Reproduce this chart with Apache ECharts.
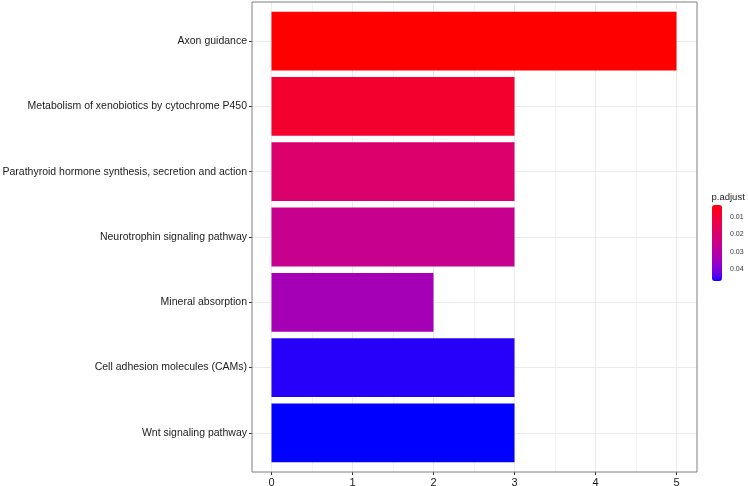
<!DOCTYPE html>
<html><head><meta charset="utf-8">
<script src="https://cdn.jsdelivr.net/npm/echarts@6/dist/echarts.min.js"></script>
<style>html,body{margin:0;padding:0;background:#fff}#c{width:748px;height:486px}</style>
</head><body><div id="c"></div>
<script>
// ---- data ----
const categories = [
  "Axon guidance",
  "Metabolism of xenobiotics by cytochrome P450",
  "Parathyroid hormone synthesis, secretion and action",
  "Neurotrophin signaling pathway",
  "Mineral absorption",
  "Cell adhesion molecules (CAMs)",
  "Wnt signaling pathway"
];
const counts = [5, 3, 3, 3, 2, 3, 3];
const pAdjust = [0.0031, 0.0084, 0.0193, 0.0259, 0.0338, 0.0459, 0.0470];
const xTicks = [0, 1, 2, 3, 4, 5];
const legendTicks = [0.01, 0.02, 0.03, 0.04];
const pMin = 0.0031, pMax = 0.0470;

// ---- colour helpers (Lab interpolation like ggplot) ----
function toLin(c){c/=255;return c<=0.04045?c/12.92:Math.pow((c+0.055)/1.055,2.4);}
function fromLin(c){c=c<=0.0031308?12.92*c:1.055*Math.pow(c,1/2.4)-0.055;return Math.max(0,Math.min(255,Math.round(c*255)));}
function rgb2lab(r,g,b){r=toLin(r);g=toLin(g);b=toLin(b);
  let X=(0.4124*r+0.3576*g+0.1805*b)/0.95047,Y=(0.2126*r+0.7152*g+0.0722*b),Z=(0.0193*r+0.1192*g+0.9505*b)/1.08883;
  const f=t=>t>0.008856?Math.cbrt(t):7.787*t+16/116;
  const fx=f(X),fy=f(Y),fz=f(Z);return [116*fy-16,500*(fx-fy),200*(fy-fz)];}
function lab2rgb(L,a,b){const fy=(L+16)/116,fx=fy+a/500,fz=fy-b/200;
  const g=t=>{const t3=t*t*t;return t3>0.008856?t3:(t-16/116)/7.787;};
  const X=g(fx)*0.95047,Y=g(fy),Z=g(fz)*1.08883;
  const r=3.2406*X-1.5372*Y-0.4986*Z,gg=-0.9689*X+1.8758*Y+0.0415*Z,bb=0.0557*X-0.2040*Y+1.0570*Z;
  const h=v=>fromLin(v).toString(16).padStart(2,'0');return '#'+h(r)+h(gg)+h(bb);}
const labLow=rgb2lab(255,0,0), labHigh=rgb2lab(0,0,255);
const stops=[];
for(let i=0;i<=20;i++){const t=i/20;stops.push(lab2rgb(labLow[0]+(labHigh[0]-labLow[0])*t,labLow[1]+(labHigh[1]-labLow[1])*t,labLow[2]+(labHigh[2]-labLow[2])*t));}

const source = categories.map((c,i)=>[c, counts[i], pAdjust[i]]);
const FONT = '"Liberation Sans", Arial, sans-serif';
const txt = '#1a1a1a';

const chart = echarts.init(document.getElementById('c'), null, {renderer:'canvas'});
chart.setOption({
  animation:false,
  backgroundColor:'#ffffff',
  title:{text:'p.adjust',left:711.5,top:192,padding:0,textStyle:{fontFamily:FONT,fontSize:9.5,fontWeight:'normal',color:txt}},
  dataset:{source:source},
  grid:[
    {left:252,top:2,width:445,height:470,show:true,borderColor:'#7f7f7f',borderWidth:1,backgroundColor:'transparent',z:5,outerBoundsMode:'none',containLabel:false},
    {left:271.5,top:2,width:405,height:470,outerBoundsMode:'none',containLabel:false},
    {left:252,top:41.14,width:445,height:391.72,outerBoundsMode:'none',containLabel:false},
    {left:271.5,top:8.5,width:405,height:457,outerBoundsMode:'none',containLabel:false},
    {left:712,top:205,width:10,height:76,outerBoundsMode:'none',containLabel:false}
  ],
  xAxis:[
    {gridIndex:0,type:'value',min:0,max:1,show:false},
    {gridIndex:1,type:'value',min:0,max:5,interval:1,
      axisLine:{show:false},
      axisTick:{show:true,length:3,lineStyle:{color:'#333'}},
      axisLabel:{fontFamily:FONT,fontSize:11,color:txt,margin:5,customValues:xTicks},
      splitLine:{show:true,lineStyle:{color:'#EBEBEB',width:1}},
      minorTick:{show:false,splitNumber:2},
      minorSplitLine:{show:true,lineStyle:{color:'#F4F4F4',width:1}}},
    {gridIndex:2,type:'value',min:0,max:1,show:false},
    {gridIndex:3,type:'value',min:0,max:5,show:false},
    {gridIndex:4,type:'value',min:0,max:1,show:false}
  ],
  yAxis:[
    {gridIndex:0,type:'value',min:0,max:1,show:false},
    {gridIndex:1,type:'value',min:0,max:1,show:false},
    {gridIndex:2,type:'category',data:categories,inverse:true,boundaryGap:false,
      axisLine:{show:false},
      axisTick:{show:true,length:3,lineStyle:{color:'#333'}},
      axisLabel:{fontFamily:FONT,fontSize:10.5,color:txt,margin:5},
      splitLine:{show:true,lineStyle:{color:'#EBEBEB',width:1}}},
    {gridIndex:3,type:'category',data:categories,inverse:true,show:false},
    {gridIndex:4,type:'value',min:pMin,max:pMax,inverse:true,position:'right',
      axisLine:{show:false},
      axisTick:{show:true,inside:true,length:2,lineStyle:{color:'#ffffff'},customValues:legendTicks},
      axisLabel:{fontFamily:FONT,fontSize:7,color:'#333333',margin:8,customValues:legendTicks},
      splitLine:{show:false}}
  ],
  visualMap:{type:'continuous',min:pMin,max:pMax,dimension:2,seriesIndex:0,inverse:true,
    orient:'vertical',left:712,top:205,itemWidth:10,itemHeight:76,padding:0,
    calculable:false,hoverLink:false,text:null,showLabel:false,
    inRange:{color:stops}},
  series:[{
    type:'bar',xAxisIndex:3,yAxisIndex:3,barWidth:'90%',
    encode:{x:1,y:0},z:3
  }]
});
</script></body></html>
